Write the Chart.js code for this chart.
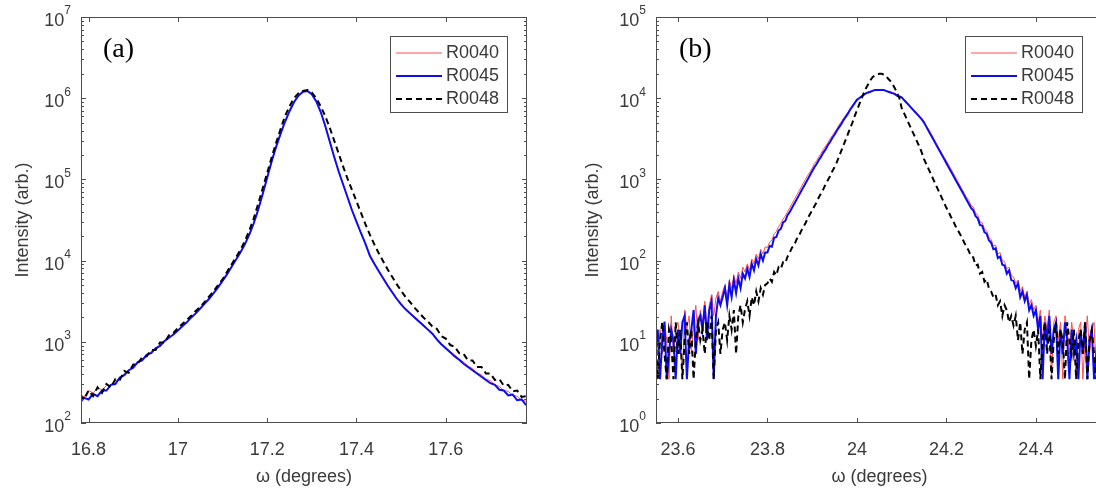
<!DOCTYPE html>
<html>
<head>
<meta charset="utf-8">
<script src="https://cdn.jsdelivr.net/npm/chart.js@4.4.1/dist/chart.umd.min.js"></script>
<style>
  html, body { margin: 0; padding: 0; background: #fff; overflow: hidden; }
  #wrap { position: relative; width: 1096px; height: 492px; overflow: hidden; }
  .panel { position: absolute; top: 0; }
</style>
</head>
<body>
<div id="wrap">
  <div class="panel" style="left:0"><canvas id="chartA" width="548" height="492"></canvas></div>
  <div class="panel" style="left:548px"><canvas id="chartB" width="560" height="492"></canvas></div>
</div>
<script>
const seriesNames = ['R0040', 'R0045', 'R0048'];

// ---- panel (a) ----
const xA = [
  16.78,16.79,16.80,16.81,16.82,16.83,16.84,16.85,16.86,16.87,
  16.88,16.89,16.90,16.91,16.92,16.93,16.94,16.95,16.96,16.97,
  16.98,16.99,17.00,17.01,17.02,17.03,17.04,17.05,17.06,17.07,
  17.08,17.09,17.10,17.11,17.12,17.13,17.14,17.15,17.16,17.17,
  17.18,17.19,17.20,17.21,17.22,17.23,17.24,17.25,17.26,17.27,
  17.28,17.29,17.30,17.31,17.32,17.33,17.34,17.35,17.36,17.37,
  17.38,17.39,17.40,17.41,17.42,17.43,17.44,17.45,17.46,17.47,
  17.48,17.49,17.50,17.51,17.52,17.53,17.54,17.55,17.56,17.57,
  17.58,17.59,17.60,17.61,17.62,17.63,17.64,17.65,17.66,17.67,
  17.68,17.69,17.70,17.71,17.72,17.73,17.74,17.75,17.76,17.77,
  17.78
];
const logA40 = [
  2.36,2.32,2.40,2.37,2.43,2.41,2.46,2.47,2.52,2.55,
  2.61,2.64,2.70,2.73,2.79,2.82,2.88,2.90,2.96,3.00,
  3.05,3.10,3.14,3.20,3.24,3.30,3.35,3.41,3.47,3.53,
  3.60,3.67,3.75,3.83,3.92,4.01,4.10,4.20,4.32,4.46,
  4.63,4.82,5.02,5.22,5.40,5.56,5.71,5.84,5.95,6.03,
  6.08,6.09,6.05,5.96,5.83,5.66,5.47,5.28,5.10,4.94,
  4.78,4.62,4.48,4.34,4.21,4.07,3.97,3.88,3.79,3.70,
  3.62,3.54,3.47,3.41,3.36,3.31,3.26,3.21,3.16,3.11,
  3.04,2.98,2.93,2.88,2.84,2.79,2.75,2.70,2.67,2.62,
  2.59,2.54,2.52,2.47,2.45,2.40,2.39,2.34,2.33,2.28,
  2.27
];
const logA45 = [
  2.25,2.31,2.29,2.36,2.33,2.40,2.40,2.47,2.48,2.56,
  2.59,2.65,2.68,2.75,2.77,2.84,2.86,2.92,2.95,3.01,
  3.05,3.09,3.14,3.19,3.24,3.30,3.35,3.41,3.47,3.53,
  3.60,3.67,3.75,3.83,3.92,4.01,4.10,4.20,4.32,4.46,
  4.63,4.82,5.02,5.22,5.40,5.56,5.71,5.84,5.95,6.03,
  6.08,6.09,6.05,5.96,5.83,5.66,5.47,5.28,5.10,4.94,
  4.78,4.62,4.48,4.34,4.21,4.06,3.96,3.87,3.78,3.69,
  3.61,3.53,3.46,3.40,3.35,3.30,3.25,3.20,3.15,3.10,
  3.03,2.97,2.92,2.87,2.82,2.78,2.73,2.69,2.65,2.61,
  2.57,2.53,2.49,2.47,2.41,2.40,2.34,2.35,2.28,2.29,
  2.22
];
const logA48 = [
  2.35,2.29,2.40,2.33,2.44,2.37,2.48,2.44,2.54,2.53,
  2.64,2.62,2.72,2.73,2.81,2.82,2.90,2.90,2.99,2.99,
  3.08,3.11,3.17,3.22,3.27,3.32,3.38,3.43,3.49,3.56,
  3.62,3.70,3.77,3.86,3.95,4.04,4.13,4.24,4.37,4.52,
  4.70,4.89,5.08,5.27,5.45,5.62,5.78,5.90,6.00,6.06,
  6.09,6.10,6.07,6.00,5.90,5.78,5.64,5.48,5.32,5.16,
  5.01,4.87,4.73,4.59,4.45,4.32,4.20,4.09,3.99,3.89,
  3.80,3.71,3.63,3.55,3.49,3.42,3.36,3.30,3.25,3.19,
  3.16,3.07,3.04,2.96,2.94,2.86,2.85,2.77,2.77,2.69,
  2.69,2.61,2.61,2.53,2.54,2.46,2.47,2.39,2.40,2.32,
  2.33
];
const xTicksA = [16.8, 17, 17.2, 17.4, 17.6];
const yExpA = [2, 3, 4, 5, 6, 7];

// ---- panel (b) ----
const xB = [
  23.550,23.555,23.560,23.565,23.570,23.575,23.580,23.585,23.590,23.595,
  23.600,23.605,23.610,23.615,23.620,23.625,23.630,23.635,23.640,23.645,
  23.650,23.655,23.660,23.665,23.670,23.675,23.680,23.685,23.690,23.695,
  23.700,23.705,23.710,23.715,23.720,23.725,23.730,23.735,23.740,23.745,
  23.750,23.755,23.760,23.765,23.770,23.775,23.780,23.785,23.790,23.795,
  23.800,23.805,23.810,23.815,23.820,23.825,23.830,23.835,23.840,23.845,
  23.850,23.855,23.860,23.865,23.870,23.875,23.880,23.885,23.890,23.895,
  23.900,23.905,23.910,23.915,23.920,23.925,23.930,23.935,23.940,23.945,
  23.950,23.955,23.960,23.965,23.970,23.975,23.980,23.985,23.990,23.995,
  24.000,24.005,24.010,24.015,24.020,24.025,24.030,24.035,24.040,24.045,
  24.050,24.055,24.060,24.065,24.070,24.075,24.080,24.085,24.090,24.095,
  24.100,24.105,24.110,24.115,24.120,24.125,24.130,24.135,24.140,24.145,
  24.150,24.155,24.160,24.165,24.170,24.175,24.180,24.185,24.190,24.195,
  24.200,24.205,24.210,24.215,24.220,24.225,24.230,24.235,24.240,24.245,
  24.250,24.255,24.260,24.265,24.270,24.275,24.280,24.285,24.290,24.295,
  24.300,24.305,24.310,24.315,24.320,24.325,24.330,24.335,24.340,24.345,
  24.350,24.355,24.360,24.365,24.370,24.375,24.380,24.385,24.390,24.395,
  24.400,24.405,24.410,24.415,24.420,24.425,24.430,24.435,24.440,24.445,
  24.450,24.455,24.460,24.465,24.470,24.475,24.480,24.485,24.490,24.495,
  24.500,24.505,24.510,24.515,24.520,24.525,24.530,24.535,24.540,24.545,24.550
];
const logB40 = [
  1.02,0.54,1.15,0.85,1.24,1.02,0.54,1.32,0.85,1.15,
  1.24,1.02,0.54,1.39,1.15,1.32,0.85,1.24,1.45,1.02,
  1.39,1.24,1.50,1.15,1.45,1.58,1.32,1.54,1.62,1.50,
  1.62,1.70,1.55,1.76,1.66,1.82,1.72,1.86,1.78,1.92,
  1.86,1.96,1.88,2.02,1.96,2.08,2.02,2.14,2.08,2.17,
  2.16,2.23,2.25,2.33,2.36,2.42,2.46,2.51,2.55,2.60,
  2.65,2.70,2.75,2.80,2.85,2.90,2.95,3.00,3.05,3.09,
  3.14,3.19,3.23,3.28,3.32,3.37,3.41,3.45,3.50,3.54,
  3.58,3.62,3.67,3.71,3.75,3.79,3.83,3.87,3.91,3.95,
  3.98,4.00,4.02,4.04,4.06,4.07,4.08,4.09,4.10,4.10,
  4.10,4.10,4.10,4.09,4.08,4.08,4.07,4.06,4.04,4.03,
  4.02,3.99,3.96,3.93,3.90,3.87,3.84,3.81,3.78,3.75,
  3.71,3.66,3.62,3.57,3.52,3.47,3.42,3.37,3.32,3.27,
  3.23,3.18,3.13,3.08,3.03,2.98,2.93,2.88,2.83,2.78,
  2.74,2.68,2.66,2.59,2.56,2.48,2.47,2.39,2.37,2.29,
  2.26,2.18,2.19,2.08,2.10,2.00,1.99,1.90,1.92,1.82,
  1.80,1.72,1.76,1.62,1.68,1.55,1.62,1.45,1.52,1.39,
  1.45,1.24,1.39,1.02,1.32,1.15,1.39,0.54,1.24,1.32,
  1.02,1.24,0.54,1.32,1.15,0.85,1.24,1.02,0.54,1.15,
  1.24,0.54,1.02,1.32,0.85,1.15,1.24,0.54,1.02,1.15,1.24
];
const logB45 = [
  0.85,1.15,0.54,1.02,1.25,0.54,0.85,1.15,1.02,0.54,
  1.15,0.85,1.24,1.32,0.54,1.02,1.15,1.39,0.85,1.24,
  1.32,1.15,1.45,1.02,1.39,1.50,0.54,1.32,1.54,1.45,
  1.55,1.66,1.45,1.70,1.55,1.76,1.60,1.78,1.66,1.84,
  1.78,1.90,1.80,1.96,1.88,2.02,1.94,2.08,2.00,2.10,
  2.10,2.18,2.17,2.28,2.29,2.37,2.39,2.47,2.49,2.56,
  2.60,2.65,2.70,2.75,2.80,2.85,2.90,2.95,3.00,3.05,
  3.10,3.15,3.19,3.24,3.28,3.33,3.37,3.42,3.46,3.51,
  3.55,3.60,3.64,3.68,3.73,3.77,3.81,3.86,3.90,3.94,
  3.98,4.00,4.02,4.04,4.06,4.07,4.08,4.09,4.10,4.10,
  4.10,4.10,4.10,4.09,4.08,4.07,4.06,4.05,4.03,4.02,
  4.01,3.98,3.95,3.92,3.89,3.86,3.83,3.80,3.77,3.74,
  3.70,3.65,3.60,3.55,3.50,3.45,3.40,3.35,3.30,3.25,
  3.20,3.15,3.10,3.05,3.00,2.95,2.90,2.85,2.80,2.75,
  2.70,2.65,2.62,2.55,2.52,2.44,2.43,2.35,2.33,2.25,
  2.22,2.14,2.15,2.03,2.05,1.95,1.94,1.84,1.88,1.76,
  1.75,1.66,1.72,1.55,1.62,1.50,1.58,1.39,1.45,1.32,
  1.39,1.15,1.32,0.54,1.24,1.02,1.32,0.85,1.15,1.24,
  0.54,1.15,0.85,1.24,1.02,0.54,1.15,0.85,1.02,0.54,
  1.15,0.85,1.24,0.54,1.02,1.15,0.54,0.85,1.24,1.02,0.85
];
const logB48 = [
  1.15,0.54,1.02,1.24,0.85,0.54,1.15,1.02,0.54,1.24,
  0.85,1.15,0.54,1.02,1.24,0.85,1.15,0.54,1.02,1.24,
  1.02,1.15,0.85,1.24,1.02,1.32,0.54,1.15,1.24,0.85,
  1.15,1.24,1.02,1.32,1.15,1.39,0.85,1.32,1.45,1.24,
  1.40,1.50,1.32,1.55,1.45,1.62,1.50,1.66,1.58,1.70,
  1.72,1.78,1.74,1.86,1.82,1.92,1.90,1.98,1.97,2.05,
  2.10,2.16,2.19,2.26,2.30,2.36,2.41,2.46,2.52,2.57,
  2.62,2.67,2.72,2.78,2.83,2.88,2.94,2.99,3.04,3.10,
  3.15,3.21,3.28,3.35,3.42,3.49,3.56,3.63,3.70,3.78,
  3.85,3.92,3.99,4.06,4.12,4.17,4.22,4.26,4.28,4.29,
  4.30,4.30,4.29,4.27,4.24,4.21,4.17,4.12,4.06,4.00,
  3.88,3.82,3.76,3.70,3.64,3.58,3.52,3.46,3.40,3.33,
  3.25,3.19,3.13,3.07,3.01,2.95,2.89,2.83,2.77,2.71,
  2.65,2.60,2.54,2.49,2.43,2.38,2.33,2.28,2.22,2.17,
  2.12,2.05,2.04,1.94,1.95,1.84,1.86,1.74,1.77,1.66,
  1.62,1.55,1.58,1.45,1.50,1.32,1.45,1.39,1.24,1.32,
  1.20,1.32,1.02,1.24,0.85,1.15,1.24,0.54,1.02,1.15,
  0.95,1.15,0.54,1.02,1.24,0.85,1.15,0.54,1.02,1.24,
  0.85,1.15,1.02,0.54,1.24,1.02,0.85,1.15,0.54,1.02,
  1.15,0.85,1.24,0.54,1.02,1.15,0.85,0.54,1.24,1.02,1.15
];
const xTicksB = [23.6, 23.8, 24, 24.2, 24.4];
const yExpB = [0, 1, 2, 3, 4, 5];

const FONT = '"Liberation Sans", Arial, Helvetica, sans-serif';
const textColor = '#3a3a3a';
const axisColor = '#4d4d4d';
const lineColors = ['#ff4f4f', '#0c0cf5', '#000000'];

function points(xs, logs) {
  return xs.map((x, i) => ({ x: x, y: Math.pow(10, logs[i]) }));
}

const framePlugin = {
  id: 'frame',
  afterDraw(chart, args, o) {
    const { ctx, chartArea: a, scales: { x, y } } = chart;
    ctx.save();

    // axes box
    ctx.strokeStyle = axisColor;
    ctx.lineWidth = 1;
    ctx.strokeRect(a.left + 0.5, a.top + 0.5, a.right - a.left - 1, a.bottom - a.top - 1);

    // inward tick marks
    ctx.beginPath();
    o.xTicks.forEach(v => {
      const px = Math.round(x.getPixelForValue(v)) + 0.5;
      ctx.moveTo(px, a.bottom); ctx.lineTo(px, a.bottom - 5);
      ctx.moveTo(px, a.top); ctx.lineTo(px, a.top + 5);
    });
    o.yExp.forEach((p, i) => {
      const py = Math.round(y.getPixelForValue(Math.pow(10, p))) + 0.5;
      ctx.moveTo(a.left, py); ctx.lineTo(a.left + 5, py);
      ctx.moveTo(a.right, py); ctx.lineTo(a.right - 5, py);
      if (i < o.yExp.length - 1) {
        for (let k = 2; k <= 9; k++) {
          const pm = Math.round(y.getPixelForValue(k * Math.pow(10, p))) + 0.5;
          ctx.moveTo(a.left, pm); ctx.lineTo(a.left + 3, pm);
          ctx.moveTo(a.right, pm); ctx.lineTo(a.right - 3, pm);
        }
      }
    });
    ctx.stroke();

    // y tick labels 10^n
    ctx.fillStyle = textColor;
    o.yExp.forEach(p => {
      const py = y.getPixelForValue(Math.pow(10, p));
      const right = a.left - 10;
      ctx.font = '12px ' + FONT;
      const ew = ctx.measureText(String(p)).width;
      ctx.textAlign = 'left';
      ctx.textBaseline = 'middle';
      ctx.fillText(String(p), right - ew, py - 6);
      ctx.font = '18px ' + FONT;
      ctx.textAlign = 'right';
      ctx.fillText('10', right - ew, py + 4);
    });

    // axis titles
    ctx.font = '18px ' + FONT;
    ctx.textAlign = 'center';
    ctx.textBaseline = 'middle';
    ctx.fillText('\u03c9 (degrees)', (a.left + a.right) / 2, 477);
    ctx.save();
    ctx.translate(o.yTitleX, (a.top + a.bottom) / 2);
    ctx.rotate(-Math.PI / 2);
    ctx.fillText('Intensity (arb.)', 0, 0);
    ctx.restore();

    // panel letter
    ctx.fillStyle = '#000';
    ctx.font = '28px "Liberation Serif", "Times New Roman", serif';
    ctx.textAlign = 'left';
    ctx.textBaseline = 'alphabetic';
    ctx.fillText(o.panel, o.panelX, 57);

    // legend
    const b = o.legend;
    ctx.fillStyle = '#fff';
    ctx.fillRect(b.x, b.y, b.w, b.h);
    ctx.strokeStyle = axisColor;
    ctx.strokeRect(b.x + 0.5, b.y + 0.5, b.w, b.h);
    chart.data.datasets.forEach((ds, i) => {
      const ly = b.y + 17 + i * 23;
      ctx.beginPath();
      ctx.strokeStyle = ds.borderColor;
      ctx.lineWidth = ds.borderWidth;
      ctx.setLineDash(ds.borderDash || []);
      ctx.moveTo(b.x + 6, ly);
      ctx.lineTo(b.x + 52, ly);
      ctx.stroke();
      ctx.setLineDash([]);
      ctx.fillStyle = textColor;
      ctx.font = '18px ' + FONT;
      ctx.textBaseline = 'middle';
      ctx.fillText(ds.label, b.x + 56, ly);
    });
    ctx.restore();
  }
};

function makeChart(id, cfg) {
  const datasets = [
    { label: seriesNames[0], data: points(cfg.xs, cfg.logs[0]), borderColor: lineColors[0], borderWidth: 1, order: 3 },
    { label: seriesNames[1], data: points(cfg.xs, cfg.logs[1]), borderColor: lineColors[1], borderWidth: 2, order: 2 },
    { label: seriesNames[2], data: points(cfg.xs, cfg.logs[2]), borderColor: lineColors[2], borderWidth: 2, borderDash: [6, 4], order: 1 }
  ];
  return new Chart(document.getElementById(id).getContext('2d'), {
    type: 'line',
    data: { datasets: datasets },
    options: {
      responsive: false,
      animation: false,
      parsing: false,
      elements: { point: { radius: 0 }, line: { tension: 0, fill: false } },
      layout: { padding: { left: 0, right: cfg.padRight, top: 17, bottom: 0 } },
      scales: {
        x: {
          type: 'linear',
          min: cfg.xMin,
          max: cfg.xMax,
          grid: { display: false },
          border: { display: false },
          afterBuildTicks: s => { s.ticks = cfg.xTicks.map(v => ({ value: v })); },
          afterFit: s => { s.height = 69; },
          ticks: {
            autoSkip: false,
            maxRotation: 0,
            padding: 8,
            color: textColor,
            font: { size: 18, family: FONT },
            callback: v => String(v)
          }
        },
        y: {
          type: 'logarithmic',
          min: Math.pow(10, cfg.yExp[0]),
          max: Math.pow(10, cfg.yExp[cfg.yExp.length - 1]),
          grid: { display: false },
          border: { display: false },
          ticks: { display: false },
          afterFit: s => { s.width = cfg.yWidth; }
        }
      },
      plugins: {
        legend: { display: false },
        tooltip: { enabled: false },
        frame: {
          xTicks: cfg.xTicks,
          yExp: cfg.yExp,
          yTitleX: cfg.yTitleX,
          panel: cfg.panel,
          panelX: cfg.panelX,
          legend: cfg.legend
        }
      }
    },
    plugins: [framePlugin]
  });
}

makeChart('chartA', {
  xs: xA, logs: [logA40, logA45, logA48],
  xMin: 16.783, xMax: 17.782, xTicks: xTicksA, yExp: yExpA,
  yWidth: 81, padRight: 21, yTitleX: 23,
  panel: '(a)', panelX: 103,
  legend: { x: 390, y: 36, w: 117, h: 76 }
});

makeChart('chartB', {
  xs: xB, logs: [logB40, logB45, logB48],
  xMin: 23.551, xMax: 24.55, xTicks: xTicksB, yExp: yExpB,
  yWidth: 108, padRight: 5, yTitleX: 45,
  panel: '(b)', panelX: 131,
  legend: { x: 417, y: 36, w: 117, h: 76 }
});
</script>
</body>
</html>
